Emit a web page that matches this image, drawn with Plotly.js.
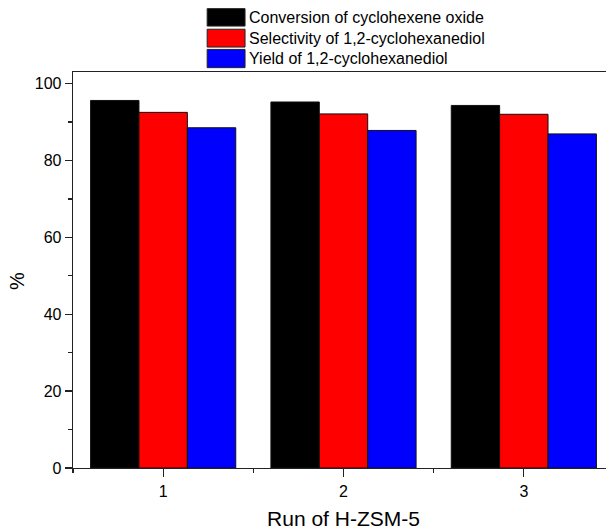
<!DOCTYPE html>
<html>
<head>
<meta charset="utf-8">
<script src="https://cdn.plot.ly/plotly-3.0.1.min.js"></script>
<style>
html,body{margin:0;padding:0;overflow:hidden;background:#fff;width:606px;height:530px;}
#chart{width:620px;height:530px;}
</style>
</head>
<body>
<div id="chart"></div>
<script>
var runs = [1, 2, 3];
var runLabels = ["1", "2", "3"];
var seriesNames = ["Conversion of cyclohexene oxide", "Selectivity of 1,2-cyclohexanediol", "Yield of 1,2-cyclohexanediol"];
var conversion = [95.6, 95.2, 94.3];
var selectivity = [92.5, 92.1, 92.0];
var yieldVals = [88.5, 87.8, 86.9];
var seriesColors = ["#000000", "#ff0000", "#0000ff"];
var yTitle = "%";
var xTitle = "Run of H-ZSM-5";

var seriesValues = [conversion, selectivity, yieldVals];
var font = "Liberation Sans, Arial, sans-serif";

var traces = seriesValues.map(function (vals, i) {
  return {
    type: "bar",
    x: runs,
    y: vals,
    name: seriesNames[i],
    marker: {color: seriesColors[i], line: {color: "#111", width: 1}},
    hoverinfo: "x+y+name"
  };
});

// custom legend (boxes + text) in paper coordinates
var shapes = [];
var annotations = [];
var boxX0 = 0.248, boxX1 = 0.318;
var rowTop = [1.160, 1.108, 1.057];
var rowBot = [1.116, 1.063, 1.011];
for (var i = 0; i < seriesNames.length; i++) {
  shapes.push({
    type: "rect", xref: "paper", yref: "paper", layer: "below",
    x0: boxX0, x1: boxX1, y0: rowBot[i], y1: rowTop[i],
    fillcolor: seriesColors[i], line: {color: "#222", width: 1}
  });
  annotations.push({
    xref: "paper", yref: "paper", x: 0.321, y: (rowTop[i] + rowBot[i]) / 2,
    xanchor: "left", yanchor: "middle", showarrow: false,
    text: seriesNames[i], font: {family: font, size: 16, color: "#000"}
  });
}
// y axis title
annotations.push({
  xref: "paper", yref: "paper", x: -0.1035, y: 0.472,
  xanchor: "center", yanchor: "middle", showarrow: false, textangle: -90,
  text: yTitle, font: {family: font, size: 20, color: "#000"}
});

var layout = {
  width: 620, height: 530,
  margin: {l: 73, r: 6, t: 72, b: 62},
  paper_bgcolor: "#fff", plot_bgcolor: "#fff",
  barmode: "group", bargap: 0.195, bargroupgap: 0,
  showlegend: false,
  font: {family: font, color: "#000"},
  xaxis: {
    range: [0.5, 3.5],
    tickvals: runs, ticktext: runLabels,
    ticks: "outside", ticklen: 8, tickwidth: 1.3, tickcolor: "#222",
    minor: {tick0: 0.5, dtick: 1, ticks: "outside", ticklen: 4, tickwidth: 1.3, tickcolor: "#222"},
    showline: true, linecolor: "#222", linewidth: 1.3, mirror: true,
    showgrid: false, zeroline: false,
    tickfont: {family: font, size: 16, color: "#000"},
    title: {text: xTitle, font: {family: font, size: 21, color: "#000"}, standoff: 12}
  },
  yaxis: {
    range: [0, 103],
    tickvals: [0, 20, 40, 60, 80, 100],
    ticks: "outside", ticklen: 7, tickwidth: 1.3, tickcolor: "#222",
    minor: {tickvals: [10, 30, 50, 70, 90], ticks: "outside", ticklen: 4, tickwidth: 1.3, tickcolor: "#222"},
    showline: true, linecolor: "#222", linewidth: 1.3, mirror: true,
    showgrid: false, zeroline: false,
    tickfont: {family: font, size: 16, color: "#000"}
  },
  shapes: shapes,
  annotations: annotations
};

Plotly.newPlot("chart", traces, layout, {displayModeBar: false, staticPlot: true});
</script>
</body>
</html>
